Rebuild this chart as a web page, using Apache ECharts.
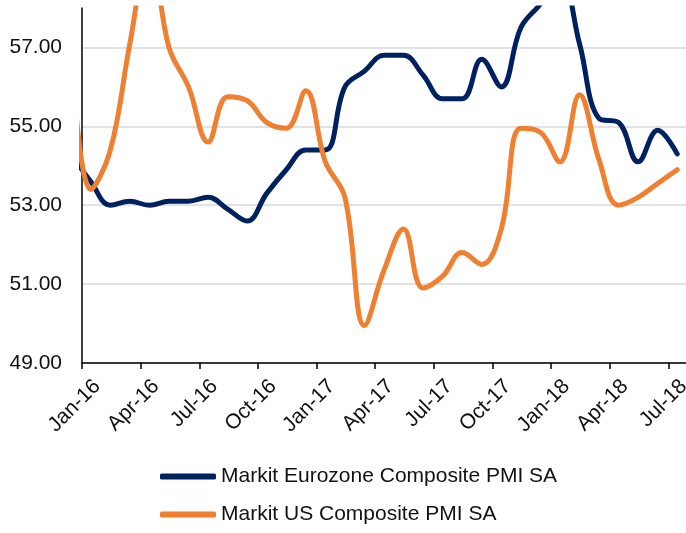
<!DOCTYPE html>
<html>
<head>
    <meta charset="utf-8">
    <title>PMI</title>
    <script type="text/javascript" src="https://cdn.jsdelivr.net/npm/echarts@6/dist/echarts.min.js"></script>
    <style>
        html, body { margin: 0; padding: 0; background: #fff; }
    </style>
</head>
<body>
	<div id="main" style="height:533px; width:686px;"></div>
	<script type="text/javascript">
	// monthly readings, Dec-15 .. Jul-18 (Dec-15 sits left of the axis and is clipped)
	var months = ['Dec-15', 'Jan-16', 'Feb-16', 'Mar-16', 'Apr-16', 'May-16', 'Jun-16', 'Jul-16', 'Aug-16', 'Sep-16', 'Oct-16', 'Nov-16', 'Dec-16',
	    'Jan-17', 'Feb-17', 'Mar-17', 'Apr-17', 'May-17', 'Jun-17', 'Jul-17', 'Aug-17', 'Sep-17', 'Oct-17', 'Nov-17', 'Dec-17',
	    'Jan-18', 'Feb-18', 'Mar-18', 'Apr-18', 'May-18', 'Jun-18', 'Jul-18'];
	var eurozone = [54.3, 53.6, 53.0, 53.1, 53.0, 53.1, 53.1, 53.2, 52.9, 52.6, 53.3, 53.9, 54.4,
	    54.4, 56.0, 56.4, 56.8, 56.8, 56.3, 55.7, 55.7, 56.7, 56.0, 57.5, 58.1,
	    58.8, 57.1, 55.2, 55.1, 54.1, 54.9, 54.3];
	var us = [57.0, 53.4, 54.4, 57.1, 59.5, 57.0, 56.0, 54.6, 55.75, 55.65, 55.1, 54.95, 55.9,
	    54.1, 53.2, 49.95, 51.35, 52.4, 50.9, 51.2, 51.8, 51.5, 52.4, 54.95, 54.85,
	    54.1, 55.8, 54.15, 53.0, 53.2, 53.55, 53.9];
	var tickLabels = ['Jan-16', 'Apr-16', 'Jul-16', 'Oct-16', 'Jan-17', 'Apr-17', 'Jul-17', 'Oct-17', 'Jan-18', 'Apr-18', 'Jul-18'];
	var seriesNames = ['Markit Eurozone Composite PMI SA', 'Markit US Composite PMI SA'];
	var colors = ['#00215f', '#ef7f31'];

	// x is months since Jan-16; each reading is placed mid-month
	function toPoints(vals) {
	    return vals.map(function (v, i) { return [i - 1 + 0.45, v]; });
	}

	var myChart = echarts.init(document.getElementById('main'));
	var font = 'Liberation Sans, Arial, sans-serif';
	var option = {
	    animation: false,
	    grid: {left: 82, right: 0, top: 8, bottom: 170, outerBoundsMode: 'none'},
	    legend: {
	        orient: 'vertical',
	        left: 155,
	        top: 461,
	        itemWidth: 56,
	        itemHeight: 6,
	        itemGap: 17,
	        icon: 'roundRect',
	        textStyle: {fontFamily: font, fontSize: 21, color: '#111'},
	        data: seriesNames
	    },
	    xAxis: {
	        type: 'value',
	        min: 0,
	        max: 30.9,
	        interval: 3,
	        axisLine: {onZero: false, lineStyle: {color: '#000', width: 1.5}},
	        axisTick: {length: 6, lineStyle: {color: '#000', width: 1.5}},
	        splitLine: {show: false},
	        axisLabel: {
	            rotate: 45,
	            margin: 5,
	            align: 'right',
	            verticalAlign: 'top',
	            padding: [11, 0, 0, 0],
	            fontFamily: font,
	            fontSize: 21,
	            color: '#111',
	            showMaxLabel: false,
	            formatter: function (v) {
	                if (Math.abs(v % 3) > 1e-6) return '';
	                return tickLabels[v / 3] || '';
	            }
	        }
	    },
	    yAxis: {
	        type: 'value',
	        min: 49,
	        max: 58,
	        interval: 1,
	        axisLine: {show: true, lineStyle: {color: '#000', width: 1.5}},
	        axisTick: {show: false},
	        splitLine: {lineStyle: {color: ['#d9d9d9', 'transparent'], width: 1.5}},
	        axisLabel: {
	            margin: 20,
	            fontFamily: font,
	            fontSize: 21,
	            color: '#111',
	            formatter: function (v) {
	                return ((v - 49) % 2 === 0 && v < 58) ? v.toFixed(2) : '';
	            }
	        }
	    },
	    series: [eurozone, us].map(function (vals, k) {
	        return {
	            name: seriesNames[k],
	            type: 'line',
	            data: toPoints(vals),
	            smooth: 0.4,
	            showSymbol: false,
	            clip: true,
	            lineStyle: {color: colors[k], width: 5, cap: 'round', join: 'round'},
	            itemStyle: {color: colors[k]}
	        };
	    })
	};
	myChart.setOption(option);
	</script>
</body>
</html>
